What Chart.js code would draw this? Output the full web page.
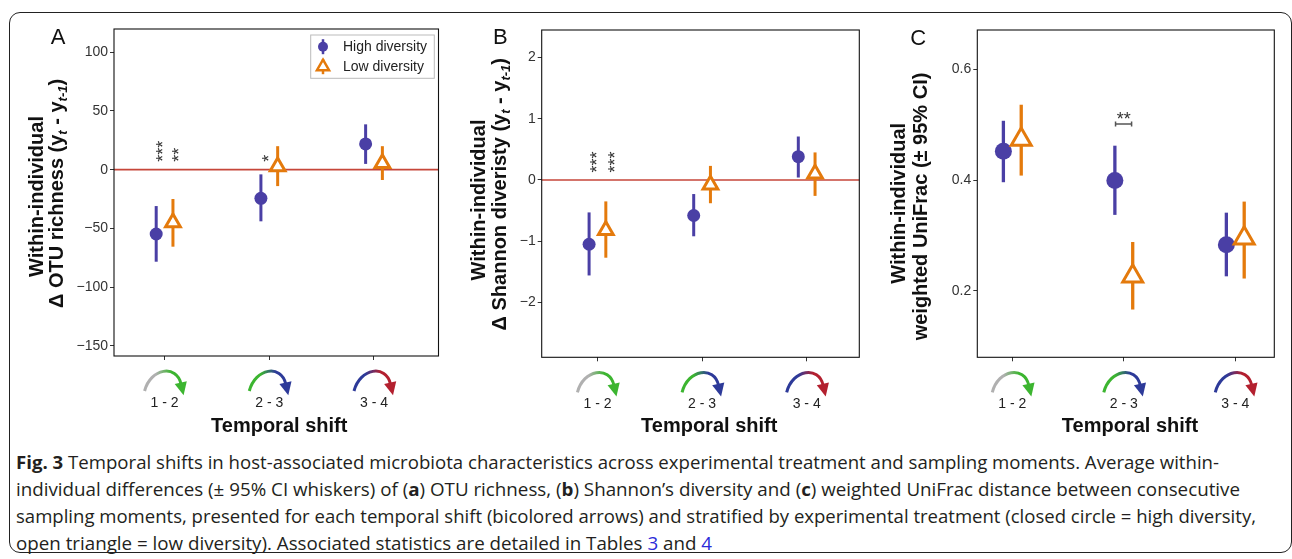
<!DOCTYPE html>
<html>
<head>
<meta charset="utf-8">
<script src="https://cdn.jsdelivr.net/npm/chart.js@4.4.1/dist/chart.umd.min.js"></script>
<style>
  html, body { margin: 0; padding: 0; background: #fff; }
  body { width: 1292px; height: 559px; position: relative; overflow: hidden; font-family: 'Liberation Sans', Arial, sans-serif; }
  .frame { position: absolute; left: 9px; top: 12px; width: 1283px; height: 541px; border: 1.5px solid #222; border-radius: 11px; box-sizing: border-box; }
  canvas.panel { position: absolute; }
  #caption { position: absolute; left: 16px; top: 449px; font-family: 'Open Sans', sans-serif; font-size: 18px; color: #231f20; }
  #caption .cl { height: 26.9px; line-height: 26.9px; white-space: nowrap; }
  #caption .t { display: inline-block; white-space: nowrap; transform-origin: 0 50%; }
  #caption .ln { color: #2b2bd9; }
</style>
</head>
<body>
<div class="frame"></div>
<canvas id="panelA" class="panel" width="440" height="430" style="left:10px;top:14px"></canvas>
<canvas id="panelB" class="panel" width="430" height="430" style="left:450px;top:14px"></canvas>
<canvas id="panelC" class="panel" width="410" height="430" style="left:880px;top:14px"></canvas>

<div id="caption">
  <div class="cl"><span class="t"><b>Fig. 3</b> Temporal shifts in host-associated microbiota characteristics across experimental treatment and sampling moments. Average within-</span></div>
  <div class="cl"><span class="t">individual differences (± 95% CI whiskers) of (<b>a</b>) OTU richness, (<b>b</b>) Shannon’s diversity and (<b>c</b>) weighted UniFrac distance between consecutive</span></div>
  <div class="cl"><span class="t">sampling moments, presented for each temporal shift (bicolored arrows) and stratified by experimental treatment (closed circle = high diversity,</span></div>
  <div class="cl"><span class="t">open triangle = low diversity). Associated statistics are detailed in Tables <span class="ln">3</span> and <span class="ln">4</span></span></div>
</div>

<script>
// Temporal shifts (x categories)
const shifts = ['1 - 2', '2 - 3', '3 - 4'];
const shiftColors = [['#b0b0b0', '#3cb530'], ['#3cb530', '#2d3a99'], ['#2d3a99', '#b3202f']];

// A: change in OTU richness
const otuHigh = [-54.8, -24.4, 21.9];
const otuHighLo = [-78.4, -44.0, 4.9];
const otuHighHi = [-31.0, -4.0, 38.6];
const otuLow = [-45.0, 2.6, 5.4];
const otuLowLo = [-65.6, -14.0, -8.8];
const otuLowHi = [-25.0, 20.0, 20.0];
const otuTicks = [-150, -100, -50, 0, 50, 100];

// B: change in Shannon diversity
const shanHigh = [-1.05, -0.58, 0.38];
const shanHighLo = [-1.56, -0.92, 0.04];
const shanHighHi = [-0.53, -0.23, 0.71];
const shanLow = [-0.82, -0.08, 0.10];
const shanLowLo = [-1.27, -0.38, -0.26];
const shanLowHi = [-0.35, 0.23, 0.45];
const shanTicks = [-2, -1, 0, 1, 2];

// C: weighted UniFrac
const ufHigh = [0.452, 0.399, 0.283];
const ufHighLo = [0.396, 0.337, 0.226];
const ufHighHi = [0.507, 0.462, 0.341];
const ufLow = [0.473, 0.226, 0.295];
const ufLowLo = [0.408, 0.166, 0.222];
const ufLowHi = [0.536, 0.288, 0.361];
const ufTicks = [0.2, 0.4, 0.6];

const groupLabels = ['High diversity', 'Low diversity'];

const DODGE = 0.08;
const BLUE = '#4a3fa5';
const ORANGE = '#e47a0c';
const TITLE_FONT = 'bold 20px "Liberation Sans", Arial, sans-serif';
const SUB_FONT = 'italic bold 13px "Liberation Sans", Arial, sans-serif';

Chart.defaults.font.family = '"Liberation Sans", Arial, sans-serif';

const panels = [
    {
        id: 'panelA', left: 10, top: 14, yAxisWidth: 104, padTop: 15, padRight: 9, xAxisHeight: 88, xTickPad: 35,
        xMin: 0.517, xMax: 3.616, yMin: -158.7, yMax: 119.8, yTicks: otuTicks, fmt: v => String(v).replace('-', '\u2212'),
        high: { y: otuHigh, lo: otuHighLo, hi: otuHighHi }, low: { y: otuLow, lo: otuLowLo, hi: otuLowHi },
        circleR: 6.5, triR: 8.5, barWidth: 3, zeroLine: true, legend: true,
        letter: 'A', letterAt: [58, 37.5],
        title1At: [37, 196.5], title2At: [57.5, 193.4],
        title2: [{ t: '\u0394 OTU richness (y' }, { t: 't', sub: true }, { t: ' - y' }, { t: 't-1', sub: true }, { t: ')' }],
        xTitleAt: [279.2, 426.7],
        stars: [{ x: 0.94, y: 6.8, t: '***', rot: true }, { x: 1.095, y: 6.8, t: '**', rot: true }, { x: 1.955, y: 6.8, t: '*', rot: true }]
    },
    {
        id: 'panelB', left: 450, top: 14, yAxisWidth: 91.7, padTop: 16, padRight: 20.7, xAxisHeight: 86.7, xTickPad: 34,
        xMin: 0.467, xMax: 3.503, yMin: -2.897, yMax: 2.45, yTicks: shanTicks, fmt: v => String(v).replace('-', '\u2212'),
        high: { y: shanHigh, lo: shanHighLo, hi: shanHighHi }, low: { y: shanLow, lo: shanLowLo, hi: shanLowHi },
        circleR: 6.5, triR: 8.5, barWidth: 3, zeroLine: true, legend: false,
        letter: 'B', letterAt: [500.3, 38.3],
        title1At: [479, 200], title2At: [500.5, 194.2],
        title2: [{ t: '\u0394 Shannon diveristy (y' }, { t: 't', sub: true }, { t: ' - y' }, { t: 't-1', sub: true }, { t: ')' }],
        xTitleAt: [709.2, 426.7],
        stars: [{ x: 0.95, y: 0.12, t: '***', rot: true }, { x: 1.122, y: 0.12, t: '***', rot: true }]
    },
    {
        id: 'panelC', left: 880, top: 14, yAxisWidth: 97.3, padTop: 16, padRight: 15.7, xAxisHeight: 86.7, xTickPad: 34,
        xMin: 0.686, xMax: 3.35, yMin: 0.0797, yMax: 0.671, yTicks: ufTicks, fmt: v => v.toFixed(1),
        high: { y: ufHigh, lo: ufHighLo, hi: ufHighHi }, low: { y: ufLow, lo: ufLowLo, hi: ufLowHi },
        circleR: 8.5, triR: 11.5, barWidth: 3.3, zeroLine: false, legend: false,
        letter: 'C', letterAt: [918.3, 38.7],
        title1At: [899, 203.3], title2At: [921, 206.5],
        title2: [{ t: 'weighted UniFrac (\u00b1 95% CI)' }],
        xTitleAt: [1130, 426.7],
        stars: [{ x: 2.0, y: 0.518, t: '**', rot: false }],
        bracket: { x0: 1.926, x1: 2.07, y: 0.501 }
    }
];

function drawRich(ctx, cx, cy, parts) {
    ctx.save();
    ctx.translate(cx, cy);
    ctx.rotate(-Math.PI / 2);
    ctx.textBaseline = 'middle';
    ctx.textAlign = 'left';
    let total = 0;
    parts.forEach(p => {
        ctx.font = p.sub ? SUB_FONT : TITLE_FONT;
        p.w = ctx.measureText(p.t).width;
        total += p.w;
    });
    let px = -total / 2;
    parts.forEach(p => {
        ctx.font = p.sub ? SUB_FONT : TITLE_FONT;
        ctx.fillText(p.t, px, p.sub ? 6 : 0);
        px += p.w;
    });
    ctx.restore();
}

function drawShiftArrow(ctx, cx, top, c1, c2) {
    const grad = ctx.createLinearGradient(cx - 20, 0, cx + 18, 0);
    grad.addColorStop(0, c1);
    grad.addColorStop(0.3, c1);
    grad.addColorStop(0.7, c2);
    grad.addColorStop(1, c2);
    ctx.strokeStyle = grad;
    ctx.lineWidth = 3;
    ctx.beginPath();
    ctx.moveTo(cx - 20, top + 35);
    ctx.bezierCurveTo(cx - 14, top + 12, cx + 12, top + 8, cx + 16.5, top + 28);
    ctx.stroke();
    // head
    const dx = 4.5, dy = 20, len = Math.hypot(dx, dy);
    const ux = dx / len, uy = dy / len;
    const bx = cx + 16.5 - ux * 1.5, by = top + 28 - uy * 1.5;
    ctx.fillStyle = c2;
    ctx.beginPath();
    ctx.moveTo(bx + uy * 6.2, by - ux * 6.2);
    ctx.lineTo(bx - uy * 6.2, by + ux * 6.2);
    ctx.lineTo(bx + ux * 13, by + uy * 13);
    ctx.closePath();
    ctx.fill();
}

function decor(cfg) {
    return {
        id: 'decor' + cfg.letter,
        beforeDatasetsDraw(chart) {
            const { ctx, chartArea: a, scales: { x, y } } = chart;
            ctx.save();
            if (cfg.zeroLine) {
                const py = y.getPixelForValue(0);
                ctx.strokeStyle = '#c6463a';
                ctx.lineWidth = 1.6;
                ctx.beginPath();
                ctx.moveTo(a.left, py);
                ctx.lineTo(a.right, py);
                ctx.stroke();
            }
            // 95% CI whiskers
            [[cfg.high, -DODGE, BLUE], [cfg.low, DODGE, ORANGE]].forEach(([g, off, col]) => {
                ctx.strokeStyle = col;
                ctx.lineWidth = cfg.barWidth;
                g.lo.forEach((lo, i) => {
                    const px = x.getPixelForValue(i + 1 + off);
                    ctx.beginPath();
                    ctx.moveTo(px, y.getPixelForValue(lo));
                    ctx.lineTo(px, y.getPixelForValue(g.hi[i]));
                    ctx.stroke();
                });
            });
            ctx.restore();
        },
        afterDraw(chart) {
            const { ctx, chartArea: a, scales: { x, y } } = chart;
            ctx.save();
            ctx.strokeStyle = '#111';
            ctx.lineWidth = 1.1;
            ctx.strokeRect(a.left, a.top, a.right - a.left, a.bottom - a.top);

            // shift arrows under each tick
            shifts.forEach((s, i) => {
                drawShiftArrow(ctx, x.getPixelForValue(i + 1), a.bottom, shiftColors[i][0], shiftColors[i][1]);
            });

            // significance stars
            ctx.fillStyle = '#333';
            cfg.stars.forEach(st => {
                const fs = st.rot ? 18 : 18;
                ctx.font = fs + 'px "Liberation Sans", Arial, sans-serif';
                const px = x.getPixelForValue(st.x), py = y.getPixelForValue(st.y);
                ctx.save();
                ctx.translate(px, py);
                ctx.textBaseline = 'alphabetic';
                if (st.rot) {
                    ctx.rotate(-Math.PI / 2);
                    ctx.textAlign = 'left';
                } else {
                    ctx.textAlign = 'center';
                }
                ctx.fillText(st.t, 0, 0.575 * fs);
                ctx.restore();
            });
            if (cfg.bracket) {
                const b = cfg.bracket;
                const x0 = x.getPixelForValue(b.x0), x1 = x.getPixelForValue(b.x1), by = y.getPixelForValue(b.y);
                ctx.strokeStyle = '#555';
                ctx.lineWidth = 1.5;
                ctx.beginPath();
                ctx.moveTo(x0, by); ctx.lineTo(x1, by);
                ctx.moveTo(x0, by - 2.5); ctx.lineTo(x0, by + 2.5);
                ctx.moveTo(x1, by - 2.5); ctx.lineTo(x1, by + 2.5);
                ctx.stroke();
            }

            // page-positioned texts
            ctx.translate(-cfg.left, -cfg.top);
            ctx.fillStyle = '#111';
            ctx.font = '22px "Liberation Sans", Arial, sans-serif';
            ctx.textAlign = 'center';
            ctx.textBaseline = 'middle';
            ctx.fillText(cfg.letter, cfg.letterAt[0], cfg.letterAt[1]);

            drawRich(ctx, cfg.title1At[0], cfg.title1At[1], [{ t: 'Within-individual' }]);
            drawRich(ctx, cfg.title2At[0], cfg.title2At[1], cfg.title2);

            ctx.font = TITLE_FONT;
            ctx.textAlign = 'center';
            ctx.textBaseline = 'middle';
            ctx.fillText('Temporal shift', cfg.xTitleAt[0], cfg.xTitleAt[1]);

            if (cfg.legend) {
                const bx = 310.7, by = 35, bw = 123.6, bh = 43.3;
                ctx.fillStyle = '#fff';
                ctx.fillRect(bx, by, bw, bh);
                ctx.strokeStyle = '#bbb';
                ctx.lineWidth = 1;
                ctx.strokeRect(bx, by, bw, bh);
                const mx = bx + 12.3;
                // high diversity key
                let ky = by + 11.7;
                ctx.strokeStyle = BLUE; ctx.lineWidth = 2.5;
                ctx.beginPath(); ctx.moveTo(mx, ky - 7.5); ctx.lineTo(mx, ky + 7.5); ctx.stroke();
                ctx.fillStyle = BLUE;
                ctx.beginPath(); ctx.arc(mx, ky, 5, 0, Math.PI * 2); ctx.fill();
                // low diversity key
                ky = by + 31.7;
                ctx.strokeStyle = ORANGE;
                ctx.beginPath(); ctx.moveTo(mx, ky - 7.5); ctx.lineTo(mx, ky + 7.5); ctx.stroke();
                const r = 7;
                ctx.fillStyle = '#fff';
                ctx.lineWidth = 2.5;
                ctx.beginPath();
                ctx.moveTo(mx, ky - r);
                ctx.lineTo(mx + r * 0.866, ky + r * 0.5);
                ctx.lineTo(mx - r * 0.866, ky + r * 0.5);
                ctx.closePath();
                ctx.fill(); ctx.stroke();

                ctx.fillStyle = '#222';
                ctx.font = '14px "Liberation Sans", Arial, sans-serif';
                ctx.textAlign = 'left';
                ctx.fillText(groupLabels[0], bx + 32.3, by + 11.7);
                ctx.fillText(groupLabels[1], bx + 32.3, by + 31.7);
            }
            ctx.restore();
        }
    };
}

panels.forEach(cfg => {
    const toPoints = (vals, off) => vals.map((v, i) => ({ x: i + 1 + off, y: v }));
    new Chart(document.getElementById(cfg.id), {
        type: 'scatter',
        data: {
            datasets: [{
                label: groupLabels[0],
                data: toPoints(cfg.high.y, -DODGE),
                pointStyle: 'circle',
                pointRadius: cfg.circleR,
                backgroundColor: BLUE,
                borderColor: BLUE,
                borderWidth: 0,
                order: 2
            }, {
                label: groupLabels[1],
                data: toPoints(cfg.low.y, DODGE),
                pointStyle: 'triangle',
                pointRadius: cfg.triR,
                backgroundColor: '#fff',
                borderColor: ORANGE,
                borderWidth: 3,
                order: 1
            }]
        },
        options: {
            responsive: false,
            animation: false,
            layout: { padding: { top: cfg.padTop, right: cfg.padRight, left: 0, bottom: 0 } },
            plugins: { legend: { display: false }, tooltip: { enabled: false } },
            scales: {
                x: {
                    type: 'linear',
                    min: cfg.xMin,
                    max: cfg.xMax,
                    afterBuildTicks: ax => { ax.ticks = shifts.map((s, i) => ({ value: i + 1 })); },
                    afterFit: ax => { ax.height = cfg.xAxisHeight; },
                    ticks: {
                        callback: v => shifts[Math.round(v) - 1],
                        padding: cfg.xTickPad,
                        autoSkip: false,
                        maxRotation: 0,
                        color: '#222',
                        font: { size: 14 }
                    },
                    grid: { drawOnChartArea: false, tickLength: 4, color: '#333' },
                    border: { display: false }
                },
                y: {
                    min: cfg.yMin,
                    max: cfg.yMax,
                    afterBuildTicks: ax => { ax.ticks = cfg.yTicks.map(v => ({ value: v })); },
                    afterFit: ax => { ax.width = cfg.yAxisWidth; },
                    ticks: { callback: v => cfg.fmt(v), padding: 2, color: '#333', font: { size: 14 } },
                    grid: { drawOnChartArea: false, tickLength: 4, color: '#333' },
                    border: { display: false }
                }
            }
        },
        plugins: [decor(cfg)]
    });
});

// fit caption lines to the widths of the printed caption
const captionWidths = [1203, 1224, 1240, 696];
document.fonts.ready.then(() => {
    document.querySelectorAll('#caption .cl > .t').forEach((el, i) => {
        const w = el.getBoundingClientRect().width;
        el.style.transform = 'scaleX(' + (captionWidths[i] / w) + ')';
    });
});
</script>
</body>
</html>
